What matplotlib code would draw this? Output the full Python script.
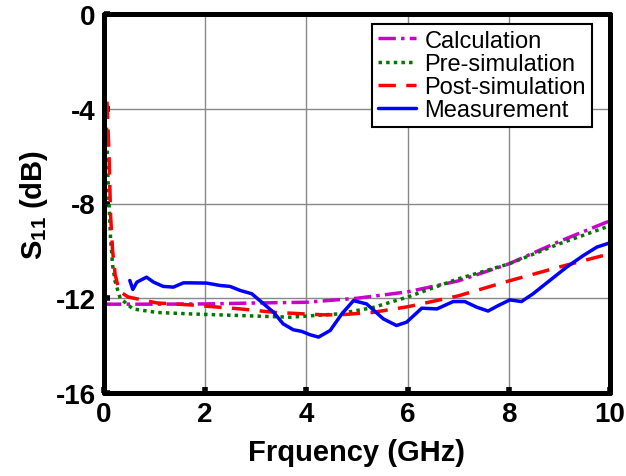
import numpy as np
import matplotlib.pyplot as plt

plt.rcParams["font.family"] = ["Liberation Sans Narrow", "Liberation Sans", "DejaVu Sans"]
plt.rcParams["font.weight"] = "bold"
plt.rcParams["axes.unicode_minus"] = False

# Calculation
calc_f = [0, 1, 2, 3, 4, 5, 6, 7, 8, 9, 10]
calc_s = [-12.25, -12.25, -12.24, -12.2, -12.17, -12.0, -11.73, -11.27, -10.55, -9.6, -8.73]

# Pre-simulation
pre_f = [0.05, 0.08, 0.1, 0.13, 0.17, 0.22, 0.32, 0.57, 1.05, 1.7, 2.69, 3.68,
         4.63, 5.3, 6, 7, 8, 9, 10]
pre_s = [-4.8, -7.0, -8.0, -9.5, -10.6, -11.3, -12.0, -12.45, -12.6, -12.66, -12.73, -12.8,
         -12.66, -12.4, -11.95, -11.18, -10.55, -9.7, -8.94]

# Post-simulation
post_f = [0.06, 0.1, 0.13, 0.17, 0.22, 0.3, 0.48, 1.05, 1.7, 2.69, 3.4, 4.33, 4.66,
          5.3, 6, 7, 8, 9, 10]
post_s = [-3.7, -6.0, -8.5, -10.0, -11.0, -11.7, -11.95, -12.2, -12.28, -12.45, -12.6, -12.7, -12.7,
          -12.6, -12.36, -11.9, -11.27, -10.68, -10.12]

# Measurement
meas_f = [0.51, 0.57, 0.65, 0.75, 0.84, 0.98, 1.17, 1.37, 1.57, 1.73, 2.03, 2.29, 2.49,
          2.69, 2.92, 3.08, 3.35, 3.54, 3.74, 3.91, 4.07, 4.24, 4.47, 4.70, 4.93,
          5.19, 5.52, 5.78, 5.98, 6.28, 6.58, 6.90, 7.13, 7.37, 7.59, 7.79, 8.02,
          8.25, 8.48, 8.81, 9.14, 9.47, 9.74, 10.0]
meas_s = [-11.25, -11.63, -11.32, -11.21, -11.11, -11.32, -11.5, -11.53, -11.35, -11.35,
          -11.36, -11.46, -11.5, -11.67, -11.81, -12.1, -12.59, -13.08, -13.33, -13.4,
          -13.54, -13.64, -13.36, -12.66, -12.1, -12.24, -12.87, -13.15, -13.01, -12.42,
          -12.45, -12.14, -12.14, -12.38, -12.54, -12.31, -12.07, -12.14, -11.81, -11.25,
          -10.69, -10.2, -9.84, -9.66]

fig = plt.figure(figsize=(6.26, 4.77), dpi=100)
ax = fig.add_axes([104 / 626, 83 / 477, 506 / 626, 379 / 477])

ax.plot(calc_f, calc_s, color="#cc00cc", lw=2.5, dashes=(5, 1.5, 1, 1.5), label="Calculation")
ax.plot(pre_f, pre_s, color="#007700", lw=2.5, ls=(0, (1, 1.2)), label="Pre-simulation")
ax.plot(post_f, post_s, color="red", lw=2.5, dashes=(5, 3), label="Post-simulation")
ax.plot(meas_f, meas_s, color="blue", lw=2.5, solid_joinstyle="round",
        solid_capstyle="round", label="Measurement")

ax.set_xlim(0, 10)
ax.set_ylim(-16, 0)
ax.set_xticks([0, 2, 4, 6, 8, 10])
ax.set_yticks([-16, -12, -8, -4, 0])
ax.grid(True, color="#888888", lw=1)
ax.set_axisbelow(True)
for s in ax.spines.values():
    s.set_linewidth(3.6)
    s.set_capstyle("round")
ax.tick_params(direction="in", length=4, width=4, labelsize=20, pad=6)

ax.set_xlabel("Frquency (GHz)", fontsize=21, fontweight="bold", labelpad=8)
ax.set_ylabel("S$_{\\mathregular{11}}$ (dB)", fontsize=21, fontweight="bold", labelpad=4)

leg = ax.legend(loc="upper right", bbox_to_anchor=(0.964, 0.974), fontsize=17,
                handlelength=1.6, handletextpad=0.35, labelspacing=0.05,
                borderpad=0.25, borderaxespad=0, fancybox=False, framealpha=1)
leg.get_frame().set_edgecolor("black")
leg.get_frame().set_linewidth(1.5)
for t in leg.get_texts():
    t.set_fontweight("normal")

fig.savefig("out.png", dpi=100)
